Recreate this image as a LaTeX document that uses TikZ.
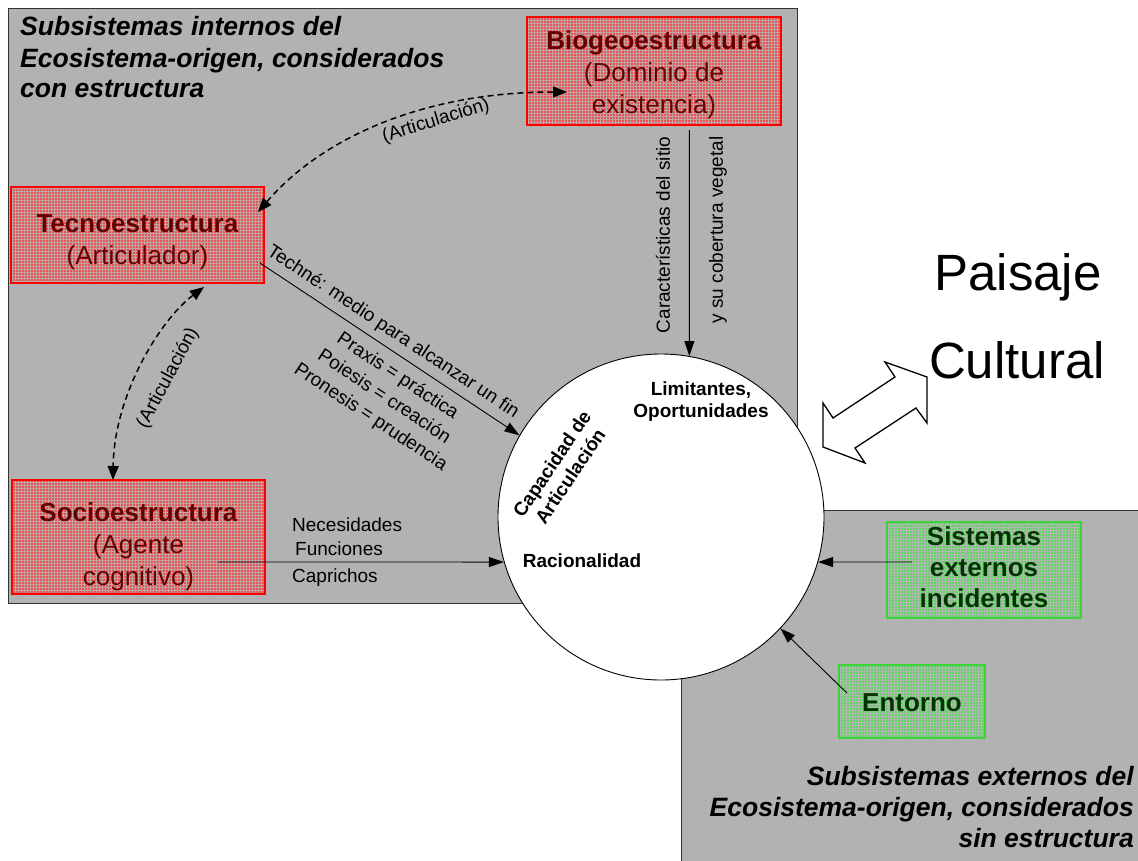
\documentclass[tikz,border=0pt]{standalone}
\usepackage{fontspec}
\setmainfont{Liberation Sans}
\usetikzlibrary{arrows.meta,patterns}

\definecolor{panelgray}{RGB}{178,178,178}
\definecolor{boxred}{RGB}{232,84,84}
\definecolor{gridred}{RGB}{190,165,165}
\definecolor{txtred}{RGB}{100,0,0}
\definecolor{boxgreen}{RGB}{104,208,104}
\definecolor{gridgreen}{RGB}{175,185,175}
\definecolor{txtgreen}{RGB}{0,52,0}
\definecolor{edgegreen}{RGB}{60,210,60}

\begin{document}
\begin{tikzpicture}[x=1pt,y=-1pt,
  panel/.style={draw=black!80, fill=panelgray, line width=1pt},
  boxtext/.style={inner sep=0pt, align=center, font=\fontsize{26}{32}\selectfont},
  redtext/.style={boxtext, text=txtred},
  greentext/.style={boxtext, text=txtgreen, font=\fontsize{26}{31}\selectfont\bfseries},
  redbox/.style={inner sep=0pt, draw=red, line width=1.8pt,
    preaction={fill=boxred}, pattern=grid, pattern color=gridred},
  greenbox/.style={inner sep=0pt, draw=edgegreen, line width=1.8pt,
    preaction={fill=boxgreen}, pattern=grid, pattern color=gridgreen},
  title/.style={inner sep=0pt, font=\fontsize{26.5}{31}\selectfont\bfseries\itshape},
  bigword/.style={inner sep=0pt, font=\fontsize{51}{60}\selectfont},
  lbl/.style={inner sep=0pt, font=\fontsize{19}{24.5}\selectfont},
  corelbl/.style={inner sep=0pt, align=center, font=\fontsize{19}{22}\selectfont\bfseries},
  dasharrow/.style={line width=1.5pt, dash pattern=on 6pt off 4pt,
    {Triangle[length=14pt,width=11pt]}-{Triangle[length=14pt,width=11pt]}},
  flow/.style={line width=0.9pt, -{Triangle[length=15pt,width=10pt]}}
]
\useasboundingbox (0,0) rectangle (1138,860);

% grey panels: internal subsystems (top) and external subsystems (bottom right)
\path[panel] (8,8) rectangle (797,603);
\path[panel] (681,510) rectangle (1142,864);

% central circle
\node[circle, draw, fill=white, line width=0.9pt, minimum size=326pt, inner sep=0pt] (core) at (661,517) {};

% structure boxes
\node[redbox, minimum width=254pt, minimum height=108pt,
  label={[redtext, yshift=-4pt]center:{\textbf{Biogeoestructura}\\(Dominio de\\existencia)}}]
  (bio) at (654,71) {};
\node[redbox, minimum width=253pt, minimum height=96pt,
  label={[redtext, yshift=-7pt]center:{\textbf{Tecnoestructura}\\(Articulador)}}]
  (tecno) at (137.5,235) {};
\node[redbox, minimum width=253pt, minimum height=114pt,
  label={[redtext, yshift=-10pt]center:{\textbf{Socioestructura}\\(Agente\\cognitivo)}}]
  (socio) at (138.5,537) {};
\node[greenbox, minimum width=194pt, minimum height=96pt,
  label={[greentext, yshift=3pt]center:{Sistemas\\externos\\incidentes}}]
  (sist) at (984,570) {};
\node[greenbox, minimum width=146pt, minimum height=73pt,
  label={[greentext, yshift=-1pt]center:{Entorno}}]
  (ent) at (912,701.5) {};

% panel titles
\node[title, anchor=base west] (t1) at (20,35) {Subsistemas internos del};
\node[title, anchor=base west] (t2) at (20,67) {Ecosistema-origen, considerados};
\node[title, anchor=base west] (t3) at (20,97) {con estructura};
\node[title, anchor=base east] (e1) at (1134,785) {Subsistemas externos del};
\node[title, anchor=base east] (e2) at (1134,816) {Ecosistema-origen, considerados};
\node[title, anchor=base east] (e3) at (1134,847) {sin estructura};

% landscape label
\node[bigword, anchor=base] (pais) at (1018,290) {Paisaje};
\node[bigword, anchor=base] (cult) at (1017,378) {Cultural};

% hollow two-way arrow between the circle and the landscape
\draw[line width=1.3pt, fill=white, line join=miter]
  (885,362) -- (927,377) -- (927,423) -- (916,408) -- (855,448) -- (865,463)
  -- (823,447) -- (823,403) -- (833,418) -- (895,377) -- cycle;

% connector end points inside the boxes
\coordinate (tecnoA) at (258,212);
\coordinate (bioA) at (567,92);
\coordinate (tecnoB) at (204,287);
\coordinate (socioB) at (113,480);
\coordinate (tecnoC) at (260,263);
\coordinate (bioC) at (689.3,130);
\coordinate (socioC) at (218,562);
\coordinate (sistC) at (912,562);
\coordinate (entC) at (847,693);

% articulation links
\draw[dasharrow] (tecnoA) .. controls (320,140) and (420,92) .. (bioA);
\draw[dasharrow] (tecnoB) .. controls (160,320) and (114,395) .. (socioB);

% flows into the circle
\draw[flow] (tecnoC) -- (core.150);
\draw[flow] (bioC) -- (core.80);
\draw[flow] (socioC) -- (core.196);
\draw[flow] (sistC) -- (core.-16);
\draw[flow] (entC) -- (core.-43);

% connector labels
\node[lbl, rotate=17] (art1) at (436,121) {(Articulación)};
\node[lbl, rotate=62] (art2) at (168,378) {(Articulación)};
\node[lbl, rotate=-33.5] (techne) at (393,332) {Techné: medio para alcanzar un fin};
\node[lbl, rotate=-33.5, align=center] (praxis) at (384,397)
  {Praxis = práctica\\Poiesis = creación\\Pronesis = prudencia};
\node[lbl, rotate=90] (carac) at (663,235) {Características del sitio};
\node[lbl, rotate=90] (cober) at (718,230) {y su cobertura vegetal};
\node[lbl, anchor=base west] (nec) at (292,531) {Necesidades};
\node[lbl, anchor=base west] (fun) at (295,555) {Funciones};
\node[lbl, anchor=base west] (cap) at (292,582) {Caprichos};

% labels inside the circle
\node[corelbl] (lim) at (701,402) {Limitantes,\\Oportunidades};
\node[corelbl, rotate=56] (capac) at (561,470) {Capacidad de\\Articulación};
\node[corelbl] (rac) at (582,561) {Racionalidad};
\end{tikzpicture}
\end{document}
